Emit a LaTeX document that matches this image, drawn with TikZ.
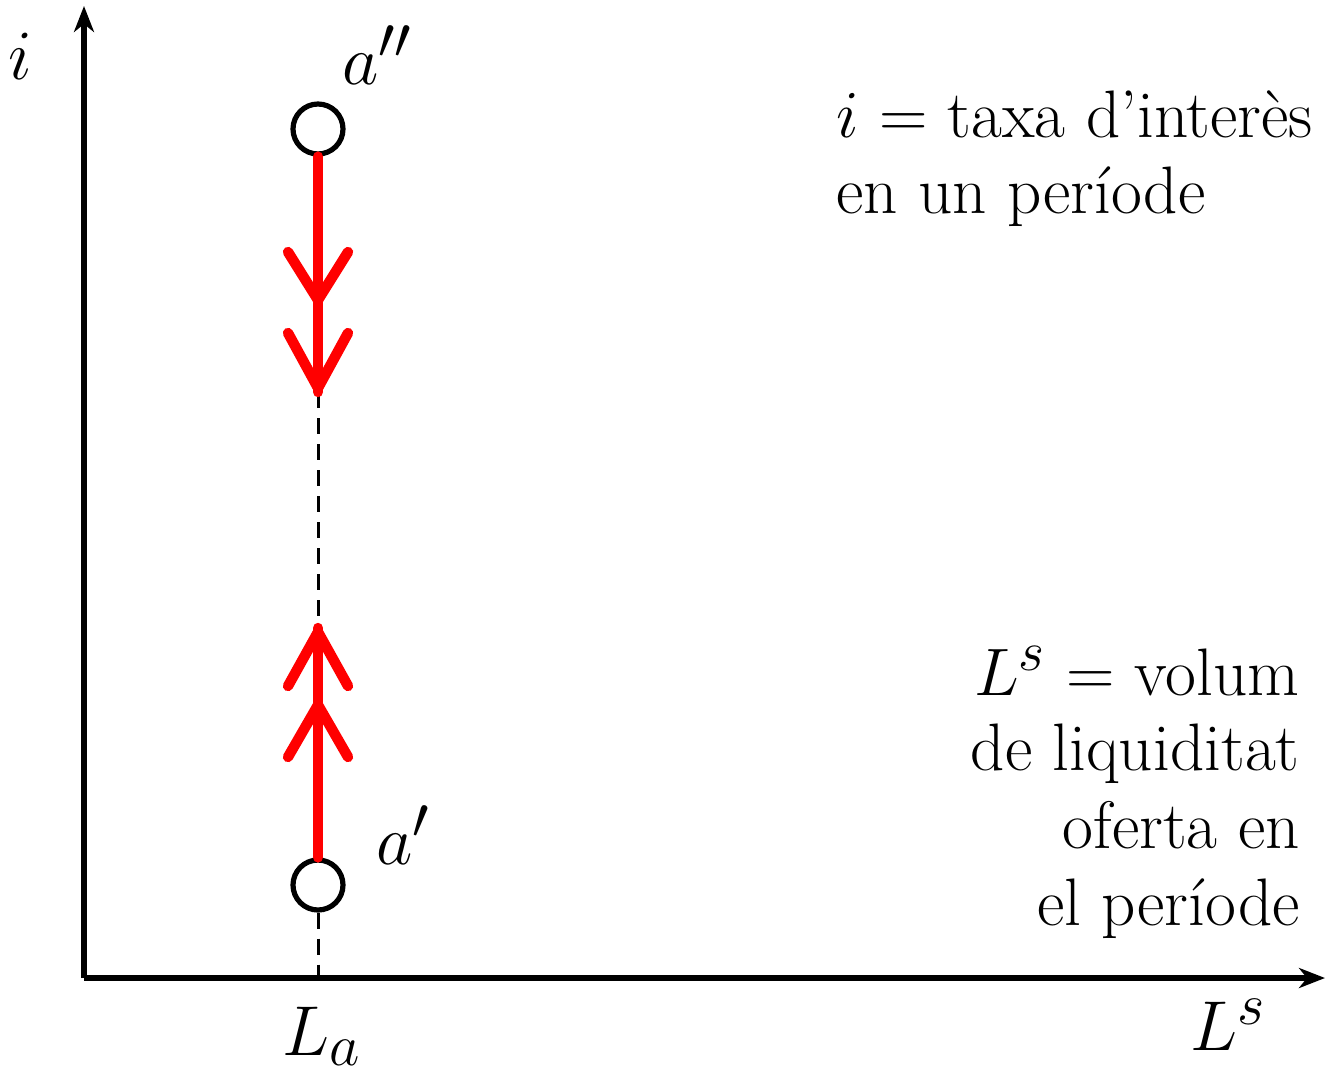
\documentclass[tikz,border=0pt]{standalone}
\usetikzlibrary{arrows.meta}
\newcommand{\txtbig}[1]{\scalebox{1.35}{\fontsize{24.88}{30}\selectfont #1}}
\newcommand{\mathbig}[1]{\scalebox{1.42}{\fontsize{24.88}{30}\selectfont #1}}
\begin{document}
\begin{tikzpicture}[x=0.5pt,y=-0.5pt,
  axis/.style={line width=2.6pt,-{Stealth[length=13pt,width=10pt,inset=4pt]}},
  pt/.style={circle,draw,line width=2.6pt,minimum size=25pt,inner sep=0pt},
  redline/.style={red,line width=5.2pt,line cap=round,line join=round},
  dashline/.style={line width=1.5pt,dash pattern=on 8pt off 5pt},
  lab/.style={inner sep=0pt}]
\useasboundingbox (0,0) rectangle (1325,1076);
\coordinate (O) at (84,978);
\coordinate (ytop) at (84,6);
\coordinate (xend) at (1325,978);
\draw[axis] (O) -- (ytop);
\draw[axis] (O) -- (xend);
\node[pt] (a2) at (318,129) {};
\node[pt] (a1) at (318,885) {};
\coordinate (top) at (318,392);
\coordinate (bot) at (318,628);
\coordinate (La) at (318,978);
\draw[dashline] (top) -- (bot);
\draw[dashline] (a1.south) -- (La);
% upper red
\draw[redline] (a2.south) -- (top);
\draw[redline] (288,252) -- (318,300) -- (348,252);
\draw[redline] (288,333) -- (318,388) -- (348,333);
% lower red
\draw[redline] (a1.north) -- (bot);
\draw[redline] (288,686) -- (318,632) -- (348,686);
\draw[redline] (288,757) -- (318,705) -- (348,757);
% labels
\node[lab,anchor=base] (li) at (20,79) {\mathbig{$i$}};
\node[lab,anchor=base west] (la2) at (342,84) {\mathbig{$a''$}};
\node[lab,anchor=base west] (la1) at (376,864) {\mathbig{$a'$}};
\node[lab,anchor=base] (lLa) at (322,1055) {\mathbig{$L_a$}};
\node[lab,anchor=base] (lLs) at (1228,1050) {\mathbig{$L^s$}};
\node[lab,anchor=base west] (t1) at (836,137) {\txtbig{$i$ = taxa d'interès}};
\node[lab,anchor=base west] (t2) at (836,213) {\txtbig{en un període}};
\node[lab,anchor=base east] (b1) at (1300,695) {\txtbig{$L^s$ = volum}};
\node[lab,anchor=base east] (b2) at (1300,770) {\txtbig{de liquiditat}};
\node[lab,anchor=base east] (b3) at (1300,848) {\txtbig{oferta en}};
\node[lab,anchor=base east] (b4) at (1300,925) {\txtbig{el període}};
\end{tikzpicture}
\end{document}
